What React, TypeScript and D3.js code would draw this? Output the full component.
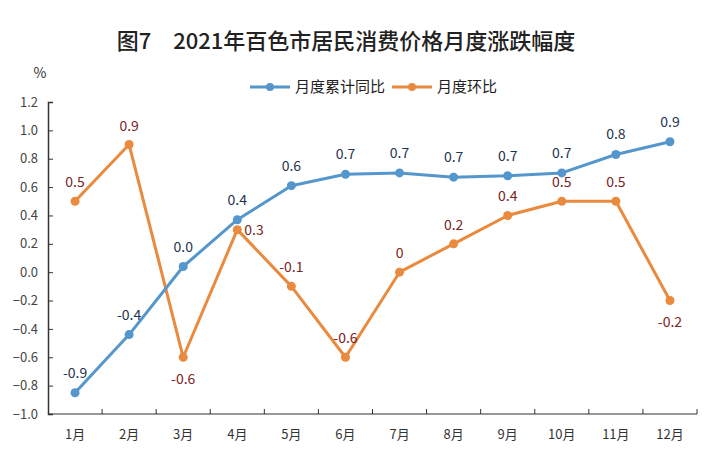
import { useEffect, useRef } from "react";
import * as d3 from "d3";

const months = ["1月", "2月", "3月", "4月", "5月", "6月", "7月", "8月", "9月", "10月", "11月", "12月"];
// 月度累计同比
const cumValues = [-0.85, -0.44, 0.04, 0.37, 0.61, 0.69, 0.7, 0.67, 0.68, 0.7, 0.83, 0.92];
const cumLabels = ["-0.9", "-0.4", "0.0", "0.4", "0.6", "0.7", "0.7", "0.7", "0.7", "0.7", "0.8", "0.9"];
// 月度环比
const momValues = [0.5, 0.9, -0.6, 0.3, -0.1, -0.6, 0, 0.2, 0.4, 0.5, 0.5, -0.2];
const momLabels = ["0.5", "0.9", "-0.6", "0.3", "-0.1", "-0.6", "0", "0.2", "0.4", "0.5", "0.5", "-0.2"];
const yTicks = [-1.0, -0.8, -0.6, -0.4, -0.2, 0.0, 0.2, 0.4, 0.6, 0.8, 1.0, 1.2];

const FONT = "'Noto Sans CJK SC', 'Noto Sans', sans-serif";
const BLUE = "#5596cc";
const ORANGE = "#e98a3e";

export default function App() {
  const ref = useRef<SVGSVGElement>(null);

  useEffect(() => {
    if (!ref.current) return;
    const width = 711;
    const height = 455;
    const svg = d3.select(ref.current);
    svg.selectAll("*").remove();

    svg.append("rect").attr("width", width).attr("height", height).attr("fill", "#fff");

    const x = d3.scaleBand().domain(months).range([48, 697]);
    const y = d3.scaleLinear().domain([-1.0, 1.2]).range([414, 102]);
    const cx = (m: string) => (x(m) || 0) + x.bandwidth() / 2;

    // title
    svg
      .append("text")
      .attr("x", 346)
      .attr("y", 49)
      .attr("text-anchor", "middle")
      .attr("font-family", FONT)
      .attr("font-size", 22)
      .attr("font-weight", 500)
      .attr("fill", "#222")
      .text("图7　2021年百色市居民消费价格月度涨跌幅度");

    svg
      .append("text")
      .attr("x", 40)
      .attr("y", 78)
      .attr("text-anchor", "middle")
      .attr("font-family", FONT)
      .attr("font-size", 14)
      .attr("fill", "#333")
      .text("%");

    // y axis
    const yAxis = svg
      .append("g")
      .attr("transform", "translate(48,0)")
      .call(
        d3
          .axisLeft(y)
          .tickValues(yTicks)
          .tickSize(-5)
          .tickPadding(10)
          .tickFormat(d3.format(".1f"))
      );
    yAxis.select(".domain").attr("stroke", "#333").attr("stroke-width", 1.5);
    yAxis.selectAll(".tick line").attr("stroke", "#333");
    yAxis
      .selectAll("text")
      .attr("font-family", FONT)
      .attr("font-size", 13)
      .attr("fill", "#444");

    // x axis
    const xAxis = svg.append("g").attr("transform", "translate(0,414)");
    xAxis
      .append("line")
      .attr("x1", 48)
      .attr("x2", 697)
      .attr("stroke", "#333")
      .attr("stroke-width", 1.2);
    xAxis
      .selectAll("line.tk")
      .data(months)
      .enter()
      .append("line")
      .attr("class", "tk")
      .attr("x1", (m) => (x(m) || 0) + x.bandwidth())
      .attr("x2", (m) => (x(m) || 0) + x.bandwidth())
      .attr("y1", 0)
      .attr("y2", -5)
      .attr("stroke", "#333");
    xAxis
      .selectAll("text")
      .data(months)
      .enter()
      .append("text")
      .attr("x", (m) => cx(m))
      .attr("y", 25)
      .attr("text-anchor", "middle")
      .attr("font-family", FONT)
      .attr("font-size", 13)
      .attr("fill", "#333")
      .text((m) => m);

    const line = d3
      .line<number>()
      .x((_, i) => cx(months[i]))
      .y((d) => y(d));

    const drawSeries = (values: number[], color: string) => {
      svg
        .append("path")
        .datum(values)
        .attr("d", line)
        .attr("fill", "none")
        .attr("stroke", color)
        .attr("stroke-width", 3)
        .attr("stroke-linejoin", "round");
      svg
        .append("g")
        .selectAll("circle")
        .data(values)
        .enter()
        .append("circle")
        .attr("cx", (_, i) => cx(months[i]))
        .attr("cy", (d) => y(d))
        .attr("r", 4.5)
        .attr("fill", color);
    };

    drawSeries(momValues, ORANGE);
    drawSeries(cumValues, BLUE);

    const drawLabels = (
      values: number[],
      labels: string[],
      color: string,
      place: (i: number) => [number, number, string]
    ) => {
      svg
        .append("g")
        .selectAll("text")
        .data(values)
        .enter()
        .append("text")
        .attr("x", (_, i) => cx(months[i]) + place(i)[0])
        .attr("y", (d, i) => y(d) + place(i)[1])
        .attr("text-anchor", (_, i) => place(i)[2])
        .attr("font-family", FONT)
        .attr("font-size", 14)
        .attr("fill", color)
        .text((_, i) => labels[i]);
    };

    drawLabels(cumValues, cumLabels, "#1f3550", () => [0, -15, "middle"]);
    drawLabels(momValues, momLabels, "#7a2424", (i) => {
      if (i === 2) return [0, 27, "middle"];
      if (i === 11) return [0, 26, "middle"];
      if (i === 3) return [7, 5, "start"];
      return [0, -14, "middle"];
    });

    // legend
    const legend = svg.append("g").attr("transform", "translate(250,87)");
    const items = [
      { name: "月度累计同比", color: BLUE, x: 0 },
      { name: "月度环比", color: ORANGE, x: 142 },
    ];
    items.forEach((it) => {
      legend
        .append("line")
        .attr("x1", it.x)
        .attr("x2", it.x + 40)
        .attr("stroke", it.color)
        .attr("stroke-width", 3);
      legend.append("circle").attr("cx", it.x + 20).attr("r", 4).attr("fill", it.color);
      legend
        .append("text")
        .attr("x", it.x + 45)
        .attr("y", 5)
        .attr("font-family", FONT)
        .attr("font-size", 15)
        .attr("fill", "#222")
        .text(it.name);
    });
  }, []);

  return (
    <svg
      ref={ref}
      width={711}
      height={455}
      style={{ position: "absolute", left: 0, top: 0 }}
    />
  );
}
